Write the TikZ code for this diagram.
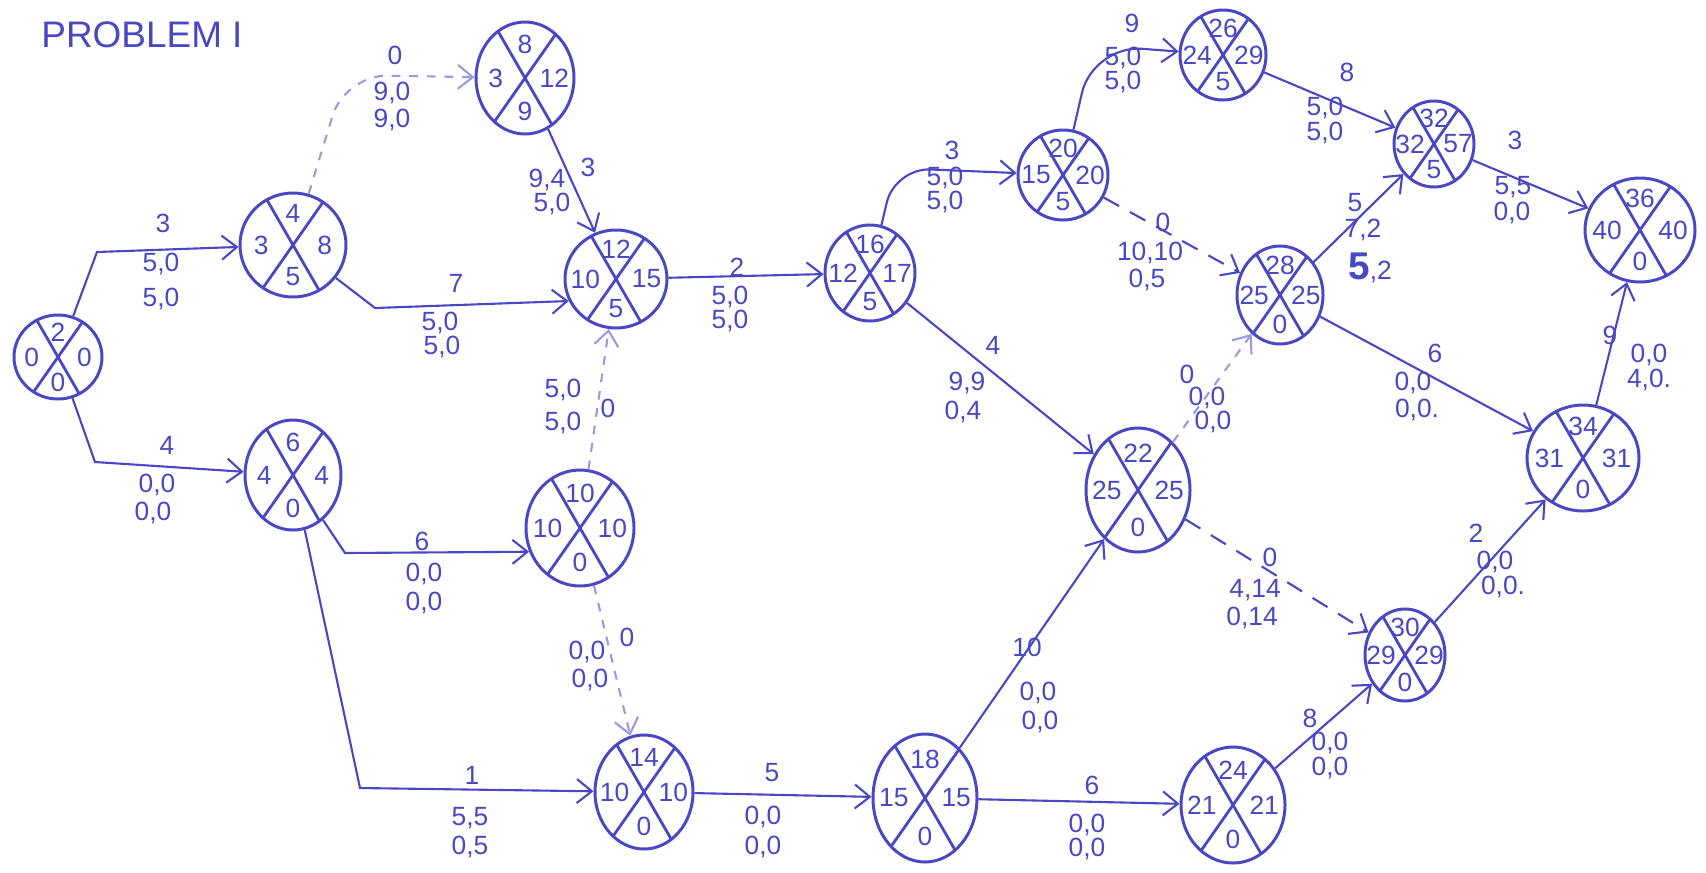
\documentclass[tikz,border=0pt]{standalone}
\usepackage{fontspec}
\setmainfont{Liberation Sans}
\usepackage{tikz}
\usetikzlibrary{positioning,arrows.meta,shapes.geometric,calc}
\definecolor{ink}{RGB}{72,72,196}
% event circle: name, x, y, rx, ry, top, left, right, bottom
\newcommand{\evnode}[9]{%
  \node[ev, minimum width={2*#4*0.01cm}, minimum height={2*#5*0.01cm}] (#1) at (#2,#3) {};
  \node[num] (#1t) at (#2,#3-0.6*#5) {#6};
  \node[num] (#1l) at (#2-0.6*#4,#3) {#7};
  \node[num] (#1r) at (#2+0.6*#4,#3) {#8};
  \node[num] (#1b) at (#2,#3+0.6*#5) {#9};
}

\begin{document}
\begin{tikzpicture}[x=0.01cm, y=-0.01cm,
  every node/.style={text=ink},
  ev/.style={ellipse, draw=ink, line width=0.85pt, inner sep=0pt,
             path picture={\draw[ink, line width=0.8pt]
               ([shift={(120:2cm)}]path picture bounding box.center) --
               ([shift={(300:2cm)}]path picture bounding box.center)
               ([shift={(55:2cm)}]path picture bounding box.center) --
               ([shift={(235:2cm)}]path picture bounding box.center);}},
  num/.style={font=\fontsize{7.5}{9}\selectfont, inner sep=0pt},
  lbl/.style={font=\fontsize{7.5}{9}\selectfont, inner sep=0pt},
  arr/.style={-{Straight Barb[length=1.5mm,width=2.4mm]}, draw=ink, line width=0.6pt},
  dummy/.style={arr, dash pattern=on 5pt off 3.5pt},
  faint/.style={arr, draw=ink!55, dash pattern=on 2.5pt off 2.5pt},
]
  \useasboundingbox (0,0) rectangle (1706,872);
  \node[font=\fontsize{10.5}{12}\selectfont, inner sep=0pt] (title) at (142,35) {PROBLEM I};

  % events
  \evnode{n0}{58}{357}{44}{42}{2}{0}{0}{0}
  \evnode{n1}{293}{245}{53}{52}{4}{3}{8}{5}
  \evnode{n2}{525}{78}{49}{56}{8}{3}{12}{9}
  \evnode{n3}{616}{279}{51}{49}{12}{10}{15}{5}
  \evnode{n4}{293}{475}{48}{55}{6}{4}{4}{0}
  \evnode{n5}{580}{528}{54}{58}{10}{10}{10}{0}
  \evnode{n6}{644}{792}{49}{57}{14}{10}{10}{0}
  \evnode{n7}{870}{273}{45}{48}{16}{12}{17}{5}
  \evnode{n8}{1063}{175}{45}{45}{20}{15}{20}{5}
  \evnode{n9}{1223}{55}{43}{45}{26}{24}{29}{5}
  \evnode{n10}{1434}{144}{40}{43}{32}{32}{57}{5}
  \evnode{n11}{1640}{230}{55}{52}{36}{40}{40}{0}
  \evnode{n12}{1280}{295}{43}{49}{28}{25}{25}{0}
  \evnode{n13}{1138}{490}{52}{62}{22}{25}{25}{0}
  \evnode{n14}{925}{798}{52}{64}{18}{15}{15}{0}
  \evnode{n15}{1233}{805}{52}{58}{24}{21}{21}{0}
  \evnode{n16}{1405}{655}{40}{46}{30}{29}{29}{0}
  \evnode{n17}{1583}{458}{56}{53}{34}{31}{31}{0}

  % bend points
  \coordinate (b01) at (97,252);
  \coordinate (b04) at (95,462);
  \coordinate (b12) at (345,75);
  \coordinate (b13) at (375,308);
  \coordinate (b45) at (345,553);
  \coordinate (b46) at (360,788);
  \coordinate (b78) at (895,168);
  \coordinate (b89) at (1093,45);

  % activities
  \draw[arr] (n0) -- (b01) -- (n1);
  \node[lbl] (d01) at (163,223) {3}; \node[lbl] (f01) at (161,264) {5,0}; \node[lbl] (g01) at (161,299) {5,0};
  \draw[arr] (n0) -- (b04) -- (n4);
  \node[lbl] (d04) at (167,445) {4}; \node[lbl] (f04) at (157,485) {0,0}; \node[lbl] (g04) at (153,513) {0,0};
  \draw[faint, rounded corners=12pt] (n1) -- (b12) -- (n2);
  \node[lbl] (d12) at (395,55) {0}; \node[lbl] (f12) at (392,93) {9,0}; \node[lbl] (g12) at (392,120) {9,0};
  \draw[arr] (n1) -- (b13) -- (n3.205);
  \node[lbl] (d13) at (456,283) {7}; \node[lbl] (f13) at (440,323) {5,0}; \node[lbl] (g13) at (442,347) {5,0};
  \draw[arr] (n2) -- (n3);
  \node[lbl] (d23) at (588,167) {3}; \node[lbl] (f23) at (547,180) {9,4}; \node[lbl] (g23) at (552,204) {5,0};
  \draw[arr] (n3) -- (n7);
  \node[lbl] (d37) at (737,267) {2}; \node[lbl] (f37) at (730,297) {5,0}; \node[lbl] (g37) at (730,321) {5,0};
  \draw[faint] (n5) -- (n3);
  \node[lbl] (d53) at (608,408) {0}; \node[lbl] (f53) at (563,390) {5,0}; \node[lbl] (g53) at (563,423) {5,0};
  \draw[arr] (n4) -- (b45) -- (n5.205);
  \node[lbl] (d45) at (422,541) {6}; \node[lbl] (f45) at (424,574) {0,0}; \node[lbl] (g45) at (424,603) {0,0};
  \draw[faint] (n5) -- (n6);
  \node[lbl] (d56) at (627,637) {0}; \node[lbl] (f56) at (587,652) {0,0}; \node[lbl] (g56) at (590,680) {0,0};
  \draw[arr] (n4) -- (b46) -- (n6);
  \node[lbl] (d46) at (472,775) {1}; \node[lbl] (f46) at (470,818) {5,5}; \node[lbl] (g46) at (470,847) {0,5};
  \draw[arr] (n6) -- (n14);
  \node[lbl] (d614) at (772,773) {5}; \node[lbl] (f614) at (763,817) {0,0}; \node[lbl] (g614) at (763,847) {0,0};
  \draw[arr, rounded corners=10pt] (n7) -- (b78) -- (n8);
  \node[lbl] (d78) at (952,150) {3}; \node[lbl] (f78) at (945,178) {5,0}; \node[lbl] (g78) at (945,202) {5,0};
  \draw[arr] (n7) -- (n13);
  \node[lbl] (d713) at (993,345) {4}; \node[lbl] (f713) at (967,383) {9,9}; \node[lbl] (g713) at (963,412) {0,4};
  \draw[arr, rounded corners=14pt] (n8) -- (b89) -- (n9);
  \node[lbl] (d89) at (1132,23) {9}; \node[lbl] (f89) at (1123,58) {5,0}; \node[lbl] (g89) at (1123,82) {5,0};
  \draw[arr] (n9) -- (n10);
  \node[lbl] (d910) at (1347,72) {8}; \node[lbl] (f910) at (1325,108) {5,0}; \node[lbl] (g910) at (1325,133) {5,0};
  \draw[dummy] (n8) -- (n12);
  \node[lbl] (d812) at (1163,222) {0}; \node[lbl] (f812) at (1150,253) {10,10}; \node[lbl] (g812) at (1147,280) {0,5};
  \draw[arr] (n12) -- (n10);
  \node[lbl] (d1210) at (1355,203) {5}; \node[lbl] (f1210) at (1363,230) {7,2};
  \node[lbl] (g1210) at (1370,268) {{\fontsize{11}{11}\selectfont\bfseries 5},2};
  \draw[arr] (n10) -- (n11);
  \node[lbl] (d1011) at (1515,140) {3}; \node[lbl] (f1011) at (1513,187) {5,5}; \node[lbl] (g1011) at (1512,213) {0,0};
  \draw[arr] (n12) -- (n17);
  \node[lbl] (d1217) at (1435,353) {6}; \node[lbl] (f1217) at (1413,383) {0,0}; \node[lbl] (g1217) at (1417,410) {0,0.};
  \draw[faint] (n13) -- (n12);
  \node[lbl] (d1312) at (1187,374) {0}; \node[lbl] (f1312) at (1207,398) {0,0}; \node[lbl] (g1312) at (1213,422) {0,0};
  \draw[dummy] (n13) -- (n16);
  \node[lbl] (d1316) at (1270,557) {0}; \node[lbl] (f1316) at (1255,590) {4,14}; \node[lbl] (g1316) at (1252,618) {0,14};
  \draw[arr] (n14) -- (n13);
  \node[lbl] (d1413) at (1027,647) {10}; \node[lbl] (f1413) at (1038,693) {0,0}; \node[lbl] (g1413) at (1040,722) {0,0};
  \draw[arr] (n14) -- (n15);
  \node[lbl] (d1415) at (1092,785) {6}; \node[lbl] (f1415) at (1087,825) {0,0}; \node[lbl] (g1415) at (1087,849) {0,0};
  \draw[arr] (n15) -- (n16);
  \node[lbl] (d1516) at (1310,718) {8}; \node[lbl] (f1516) at (1330,743) {0,0}; \node[lbl] (g1516) at (1330,768) {0,0};
  \draw[arr] (n16) -- (n17);
  \node[lbl] (d1617) at (1476,533) {2}; \node[lbl] (f1617) at (1495,562) {0,0}; \node[lbl] (g1617) at (1503,587) {0,0.};
  \draw[arr] (n17) -- (n11);
  \node[lbl] (d1711) at (1610,335) {9}; \node[lbl] (f1711) at (1649,355) {0,0}; \node[lbl] (g1711) at (1649,380) {4,0.};
\end{tikzpicture}
\end{document}
